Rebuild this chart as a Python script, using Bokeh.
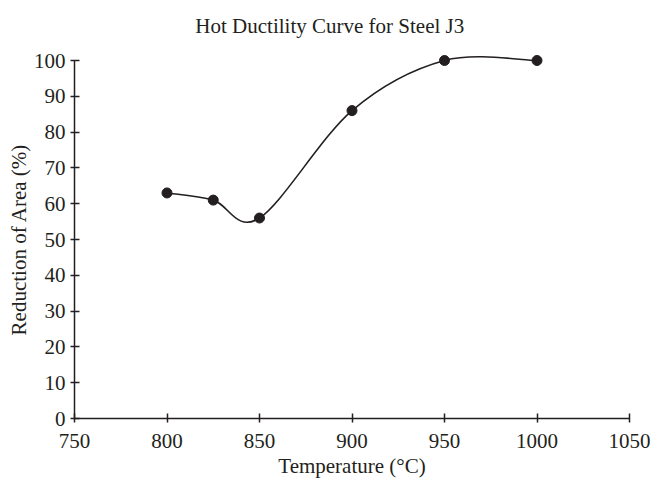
from bokeh.plotting import figure
from bokeh.models import Range1d
from bokeh.core.properties import value
from bokeh.embed import file_html
from bokeh.resources import INLINE
import numpy as np

# Data
temperature = [800, 825, 850, 900, 950, 1000]
reduction_of_area = [63, 61, 56, 86, 100, 100]
x_ticks = [750, 800, 850, 900, 950, 1000, 1050]
y_ticks = [0, 10, 20, 30, 40, 50, 60, 70, 80, 90, 100]
title_text = "Hot Ductility Curve for Steel J3"

INK = "#231f20"
FONT = "Liberation Serif"

# Smoothed line (Catmull-Rom in Bezier form, like a spreadsheet "smoothed line")
px = np.array(temperature, dtype=float)
py = np.array(reduction_of_area, dtype=float)
n = len(px)
ext_x = np.concatenate([[px[0]], px, [px[-1]]])
ext_y = np.concatenate([[py[0]], py, [py[-1]]])
x0, y0, x1, y1, cx0, cy0, cx1, cy1 = [], [], [], [], [], [], [], []
for i in range(n - 1):
    p0x, p0y = ext_x[i], ext_y[i]
    p1x, p1y = ext_x[i + 1], ext_y[i + 1]
    p2x, p2y = ext_x[i + 2], ext_y[i + 2]
    p3x, p3y = ext_x[i + 3], ext_y[i + 3]
    x0.append(p1x); y0.append(p1y)
    x1.append(p2x); y1.append(p2y)
    cx0.append(p1x + (p2x - p0x) / 6.0); cy0.append(p1y + (p2y - p0y) / 6.0)
    cx1.append(p2x - (p3x - p1x) / 6.0); cy1.append(p2y - (p3y - p1y) / 6.0)

p = figure(width=651, height=483, output_backend="svg", toolbar_location=None,
           x_range=Range1d(750, 1050), y_range=Range1d(0, 100),
           min_border_left=74, min_border_right=22, min_border_top=60, min_border_bottom=65)

p.outline_line_color = None
p.xgrid.visible = False
p.ygrid.visible = False
p.background_fill_color = "white"
p.border_fill_color = "white"

for ax in (p.xaxis[0], p.yaxis[0]):
    ax.axis_line_color = INK
    ax.axis_line_width = 1.5
    ax.major_tick_line_color = INK
    ax.major_tick_line_width = 1.5
    ax.minor_tick_line_color = None
    ax.major_tick_in = 5
    ax.major_tick_out = 4
    ax.major_label_text_font = FONT
    ax.major_label_text_font_size = "21px"
    ax.major_label_text_color = INK
    ax.axis_label_text_font = FONT
    ax.axis_label_text_font_size = "21px"
    ax.axis_label_text_font_style = "normal"
    ax.axis_label_text_color = INK

p.xaxis.ticker = x_ticks
p.yaxis.ticker = y_ticks
p.xaxis.axis_label = "Temperature (°C)"
p.yaxis.axis_label = "Reduction of Area (%)"
p.xaxis.major_label_standoff = 11
p.xaxis.axis_label_standoff = 3
p.yaxis.major_label_standoff = 5
p.yaxis.axis_label_standoff = 0

curve = p.bezier(x0=x0, y0=y0, x1=x1, y1=y1, cx0=cx0, cy0=cy0, cx1=cx1, cy1=cy1,
                 line_color=INK, line_width=1.6)
curve.level = "overlay"
pts = p.scatter(temperature, reduction_of_area, size=10, marker="circle",
                fill_color=INK, line_color=INK)
pts.level = "overlay"

# Title drawn above the frame (overlay level is not clipped to the frame)
title_x = 888
title_y = 109.5
ttl = p.text(x=[title_x], y=[title_y], text=[title_text],
             text_font=value(FONT), text_font_size="21px", text_color=INK,
             text_align="center", text_baseline="alphabetic")
ttl.level = "overlay"

open("out.html", "w").write(file_html(p, INLINE))
